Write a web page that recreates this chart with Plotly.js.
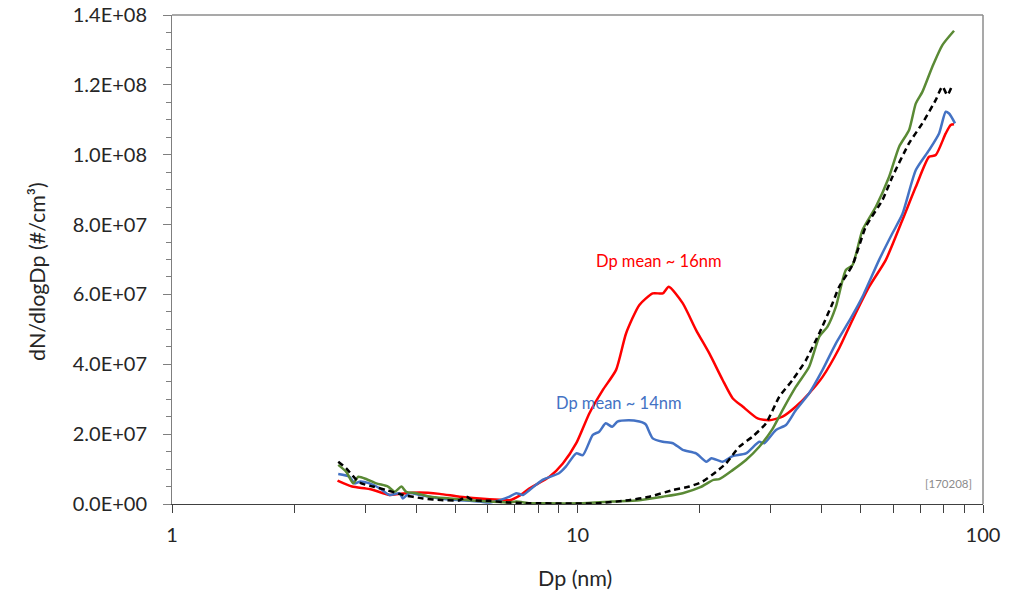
<!DOCTYPE html>
<html>
<head>
<meta charset="utf-8">
<script src="https://cdn.plot.ly/plotly-3.0.1.min.js"></script>
<style>html,body{margin:0;padding:0;background:#fff;}#chart{width:1020px;height:593px;}</style>
</head>
<body>
<div id="chart"></div>
<script>
// Dp (nm) and dN/dlogDp (in units of 1e6 #/cm3)
const redX = [2.56,2.78,3.07,3.44,3.64,4.08,4.57,5.12,5.74,6.43,6.80,7.20,7.62,8.53,9.20,9.93,10.70,11.54,12.45,13.18,14.21,15.33,16.23,16.79,18.17,19.61,21.14,22.80,24.13,25.54,27.81,29.71,32.04,34.57,37.27,40.21,44.19,47.66,52.40,57.60,63.28,68.29,73.62,76.47,80.92,83.25,84.83];
const redY = [6.7,5.0,4.3,2.6,2.9,3.3,2.9,2.1,1.6,1.2,1.1,2.4,4.5,7.8,11.6,17.4,26.0,32.6,38.4,48.9,57.0,60.3,60.3,62.2,57.5,49.8,43.1,35.5,30.3,27.9,24.5,24.0,25.0,27.9,31.7,36.4,44.6,52.7,62.2,69.9,81.3,90.8,99.4,99.9,106.1,108.5,108.7];

const blueX = [2.57,2.74,2.82,2.90,3.07,3.25,3.44,3.64,3.71,3.85,4.08,4.57,5.12,5.42,5.74,6.07,6.43,6.80,7.06,7.34,7.62,8.20,9.00,9.36,9.93,10.31,10.91,11.31,11.74,12.18,12.54,13.39,14.21,14.62,14.77,15.33,16.23,17.19,18.17,19.61,20.79,21.40,22.80,24.13,26.03,28.07,28.88,30.86,32.66,34.57,37.27,40.21,43.38,47.22,50.43,55.44,59.79,63.28,68.29,73.62,77.92,80.92,82.48,85.31];
const blueY = [8.6,7.8,5.9,6.4,5.9,4.5,2.6,3.1,1.6,3.1,2.6,1.6,1.1,0.9,0.7,0.4,1.1,2.1,3.1,2.6,4.0,6.9,8.8,10.7,14.5,14.0,19.8,20.7,23.1,22.1,23.6,24.0,23.6,23.1,22.6,18.8,17.8,17.4,15.5,14.5,12.1,13.1,12.1,13.7,14.5,17.8,17.4,21.2,22.6,26.9,31.7,38.4,46.0,53.2,59.3,69.9,77.5,83.0,95.6,101.3,106.1,112.3,111.8,109.0];

const greenX = [2.57,2.69,2.80,2.88,3.02,3.19,3.41,3.54,3.68,3.78,4.00,4.32,4.84,5.42,6.07,6.80,7.06,7.62,8.05,10.09,12.18,14.21,16.23,18.17,20.10,21.64,22.36,24.13,26.03,28.07,30.16,32.04,34.57,37.27,39.47,41.36,43.38,45.90,47.66,50.43,54.42,58.68,62.11,65.73,68.29,70.87,75.01,79.40,84.83];
const greenY = [11.2,9.2,5.9,7.8,7.1,5.9,5.0,3.5,5.0,3.5,3.1,2.1,1.6,1.1,0.7,0.4,0.7,0.2,0.2,0.2,0.7,1.1,2.1,3.1,4.8,6.9,7.1,9.7,12.6,16.4,21.2,26.9,33.6,39.3,47.9,50.8,56.5,67.0,68.4,78.4,85.1,93.7,102.3,107.1,114.7,118.0,125.2,131.4,135.5];

const blackX = [2.57,2.69,2.85,2.93,3.13,3.38,3.71,4.16,4.66,5.12,5.32,5.52,6.07,6.80,7.62,8.06,11.12,13.39,15.04,17.19,18.88,20.33,21.96,23.24,25.06,27.03,29.16,31.45,33.91,36.59,39.47,42.56,44.19,47.66,51.42,56.49,59.79,65.73,70.87,76.47,79.40,81.67,84.02];
const blackY = [12.1,10.2,6.9,5.9,5.0,4.0,2.6,1.6,1.1,1.1,2.1,1.1,0.9,0.4,0.2,0.2,0.2,1.1,2.1,4.0,5.0,6.4,9.2,11.6,16.4,19.3,23.1,30.7,35.5,41.2,48.9,57.5,62.2,68.4,79.4,87.0,93.7,103.3,109.0,115.7,119.5,117.1,120.0];

const yTickVals = [0,20,40,60,80,100,120,140];
const yTickText = ["0.0E+00","2.0E+07","4.0E+07","6.0E+07","8.0E+07","1.0E+08","1.2E+08","1.4E+08"];
const xTickVals = [1,10,100];
const xTickText = ["1","10","100"];
const xMinorVals = [2,3,4,5,6,7,8,9,20,30,40,50,60,70,80,90];

const xTitle = "Dp (nm)";
const yTitle = "dN/dlogDp (#/cm³)";
const annRed = {x:15.8, y:69.6, text:"Dp mean ~ 16nm"};
const annBlue = {x:12.6, y:28.9, text:"Dp mean ~ 14nm"};
const stamp = "[170208]";

const scale = 1e6;
const toAbs = a => a.map(v => v*scale);

const FONT = "Lato, 'Open Sans', sans-serif";
const TXT = '#262626';
const lineStyle = (c, d) => ({color:c, width:2.5, shape:'spline', smoothing:0.6, dash:d||'solid'});

const traces = [
  {x:redX, y:toAbs(redY), mode:'lines', line:lineStyle('#FF0000'), name:'red'},
  {x:blueX, y:toAbs(blueY), mode:'lines', line:lineStyle('#4472C4'), name:'blue'},
  {x:greenX, y:toAbs(greenY), mode:'lines', line:lineStyle('#5A8A35'), name:'green'},
  {x:blackX, y:toAbs(blackY), mode:'lines', line:lineStyle('#000000','6px,4px'), name:'black'}
];

const layout = {
  width:1020, height:593,
  margin:{l:172, r:37, t:15, b:89},
  paper_bgcolor:'#fff', plot_bgcolor:'#fff',
  showlegend:false,
  font:{family:FONT, color:TXT},
  xaxis:{
    type:'log', range:[0,2], showgrid:false, zeroline:false,
    tickvals:xTickVals, ticktext:xTickText,
    ticks:'outside', ticklen:8, tickcolor:'#404040', tickwidth:1,
    showline:true, linecolor:'#404040', linewidth:1,
    minor:{tickvals:xMinorVals, ticks:'outside', ticklen:8, tickcolor:'#404040', tickwidth:1, showgrid:false},
    tickfont:{size:20, family:FONT, color:TXT},
    ticklabelstandoff:5
  },
  yaxis:{
    range:[0,140*scale], showgrid:false, zeroline:false,
    tickvals:yTickVals.map(v=>v*scale), ticktext:yTickText,
    ticks:'outside', ticklen:8, tickcolor:'#7f7f7f', tickwidth:1,
    showline:true, linecolor:'#7f7f7f', linewidth:1,
    minor:{dtick:5*scale, ticks:'outside', ticklen:5, tickcolor:'#7f7f7f', tickwidth:1, showgrid:false},
    tickfont:{size:20, family:FONT, color:TXT},
    ticklabelstandoff:12
  },
  shapes:[
    {type:'line', xref:'paper', yref:'paper', x0:0, x1:1, y0:1, y1:1, line:{color:'#8c8c8c', width:1.5}},
    {type:'line', xref:'paper', yref:'paper', x0:1, x1:1, y0:0, y1:1, line:{color:'#8c8c8c', width:1.5}}
  ],
  annotations:[
    {x:Math.log10(annRed.x), y:annRed.y*scale, text:annRed.text, showarrow:false, font:{size:16.5, family:FONT, color:'#FF0000'}},
    {x:Math.log10(annBlue.x), y:annBlue.y*scale, text:annBlue.text, showarrow:false, font:{size:16.5, family:FONT, color:'#4472C4'}},
    {x:0.957, y:0.041, xref:'paper', yref:'paper', xanchor:'center', yanchor:'middle', text:stamp, showarrow:false, font:{size:11.5, family:FONT, color:'#8c8c8c'}},
    {x:0.497, y:-0.151, xref:'paper', yref:'paper', xanchor:'center', yanchor:'middle', text:xTitle, showarrow:false, font:{size:21.5, family:FONT, color:TXT}},
    {x:-0.1665, y:0.4765, xref:'paper', yref:'paper', xanchor:'center', yanchor:'middle', textangle:-90, text:yTitle, showarrow:false, font:{size:21.5, family:FONT, color:TXT}}
  ]
};

Plotly.newPlot('chart', traces, layout, {displayModeBar:false, staticPlot:true});
</script>
</body>
</html>
